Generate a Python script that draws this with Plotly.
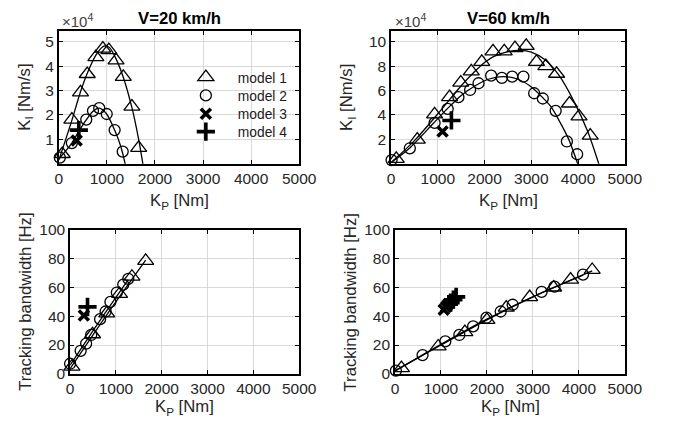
import plotly.graph_objects as go

W, H = 683, 433
FONT = "Arial, Liberation Sans, Helvetica, sans-serif"

# ---------------- data ----------------
# V = 20 km/h, K_I in units of 1e4 Nm/s
m1_kp_20 = [70, 270, 450, 590, 770, 915, 1040, 1190, 1340, 1520, 1660]
m1_ki_20 = [0.40, 1.81, 2.93, 3.68, 4.37, 4.72, 4.66, 4.24, 3.56, 2.34, 0.65]
m2_kp_20 = [20, 270, 570, 710, 840, 995, 1160, 1328]
m2_ki_20 = [0.25, 0.85, 1.81, 2.17, 2.28, 2.04, 1.38, 0.50]
m3_kp_20 = [370]
m3_ki_20 = [0.95]
m4_kp_20 = [415]
m4_ki_20 = [1.38]
fit1_kp_20 = [0, 270, 450, 600, 770, 900, 980, 1060, 1190, 1340, 1520, 1660, 1760]
fit1_ki_20 = [0.15, 1.78, 2.95, 3.75, 4.45, 4.78, 4.83, 4.75, 4.30, 3.55, 2.30, 1.00, -0.15]
fit2_kp_20 = [0, 270, 420, 570, 710, 840, 990, 1160, 1290, 1385]
fit2_ki_20 = [0.20, 0.85, 1.35, 1.80, 2.15, 2.28, 2.05, 1.38, 0.70, -0.05]

# V = 60 km/h
m1_kp_60 = [110, 560, 930, 1250, 1490, 1715, 1940, 2180, 2420, 2650, 2890, 3110, 3310, 3540, 3815, 4020, 4260]
m1_ki_60 = [0.40, 1.98, 4.05, 5.46, 6.65, 7.57, 8.35, 9.22, 9.22, 9.48, 9.67, 8.35, 8.00, 7.38, 4.94, 3.89, 2.31]
m2_kp_60 = [10, 400, 930, 1210, 1440, 1690, 1870, 2140, 2370, 2590, 2830, 3060, 3245, 3520, 3760, 3980]
m2_ki_60 = [0.30, 1.27, 3.35, 4.50, 5.46, 6.05, 6.60, 7.23, 7.04, 7.15, 7.15, 5.78, 5.35, 4.34, 1.83, 0.78]
m3_kp_60 = [1100]
m3_ki_60 = [2.65]
m4_kp_60 = [1290]
m4_ki_60 = [3.55]
fit1_kp_60 = [0, 500, 1000, 1500, 1800, 2000, 2200, 2500, 2750, 3000, 3300, 3600, 3900, 4200, 4450]
fit1_ki_60 = [0.10, 1.90, 4.10, 6.40, 7.60, 8.30, 8.80, 9.20, 9.30, 9.15, 8.50, 7.20, 5.20, 2.70, -0.10]
fit2_kp_60 = [0, 400, 900, 1200, 1500, 1800, 2100, 2400, 2700, 3000, 3300, 3420, 3600, 3800, 4000]
fit2_ki_60 = [0.10, 1.30, 3.30, 4.50, 5.60, 6.40, 6.95, 7.15, 6.95, 6.30, 5.20, 4.68, 3.50, 2.00, -0.10]

# tracking bandwidth [Hz], V = 20 km/h
bw1_kp_20 = [40, 490, 800, 1080, 1350, 1650]
bw1_hz_20 = [5.0, 27.5, 42.0, 55.5, 67.5, 78.5]
bw2_kp_20 = [0, 230, 350, 460, 655, 775, 880, 1020, 1160, 1270]
bw2_hz_20 = [7.0, 16.0, 21.0, 27.0, 38.0, 43.3, 50.0, 56.5, 62.0, 66.0]
bw3_kp_20 = [300]
bw3_hz_20 = [40.5]
bw4_kp_20 = [380]
bw4_hz_20 = [46.5]
bwfit1_kp_20 = [0, 800, 1650]
bwfit1_hz_20 = [3.5, 41.0, 79.0]
bwfit2_kp_20 = [0, 650, 1270]
bwfit2_hz_20 = [6.0, 37.0, 65.5]

# tracking bandwidth [Hz], V = 60 km/h
bw1_kp_60 = [140, 940, 1520, 2000, 2420, 2930, 3450, 3820, 4290]
bw1_hz_60 = [4.0, 19.0, 29.0, 37.5, 46.0, 53.3, 60.0, 65.5, 72.2]
bw2_kp_60 = [20, 600, 1095, 1400, 1700, 1990, 2300, 2560, 3190, 3470, 4090]
bw2_hz_60 = [2.2, 13.0, 22.5, 27.0, 33.0, 39.0, 43.3, 48.0, 57.0, 60.6, 69.0]
bw3_kp_60 = [1060, 1110, 1160]
bw3_hz_60 = [44.5, 46.5, 48.5]
bw4_kp_60 = [1210, 1270, 1330]
bw4_hz_60 = [49.5, 51.5, 53.5]
bwfit1_kp_60 = [0, 1000, 2000, 3000, 4290]
bwfit1_hz_60 = [2.0, 20.0, 37.5, 53.5, 71.5]
bwfit2_kp_60 = [0, 1000, 2000, 3000, 4090]
bwfit2_hz_60 = [2.0, 20.5, 38.0, 53.5, 68.5]

legend_names = ["model 1", "model 2", "model 3", "model 4"]
titles = ["V=20 km/h", "V=60 km/h"]
x_ticks = [0, 1000, 2000, 3000, 4000, 5000]
ki_ticks_20 = [1, 2, 3, 4, 5]
ki_ticks_60 = [2, 4, 6, 8, 10]
bw_ticks = [0, 20, 40, 60, 80, 100]

# ---------------- styling ----------------
MK = {
    1: dict(symbol="triangle-up-open", size=14, color="black", line=dict(width=1.3, color="black")),
    2: dict(symbol="circle-open", size=11, color="black", line=dict(width=1.3, color="black")),
    3: dict(symbol="x-thin-open", size=10, color="black", line=dict(width=3.6, color="black")),
    4: dict(symbol="cross-thin-open", size=13, color="black", line=dict(width=3.6, color="black")),
}
LEGEND_IDS = ["legend", "legend2", "legend3", "legend4"]
LEGEND_ROWS = [71, 90, 109, 127.7]

fig = go.Figure()


def add_marks(xs, ys, k, ax, legend=False):
    fig.add_trace(go.Scatter(
        x=xs, y=ys, mode="markers", marker=MK[k], name=legend_names[k - 1],
        showlegend=legend, legend=LEGEND_IDS[k - 1], cliponaxis=False,
        xaxis="x" + ax, yaxis="y" + ax))


def add_line(xs, ys, ax):
    fig.add_trace(go.Scatter(
        x=xs, y=ys, mode="lines", line=dict(color="black", width=1.3, shape="spline", smoothing=0.8),
        showlegend=False, hoverinfo="skip", xaxis="x" + ax, yaxis="y" + ax))


# panel 1 (top-left)
add_line(fit1_kp_20, fit1_ki_20, "")
add_line(fit2_kp_20, fit2_ki_20, "")
add_marks(m1_kp_20, m1_ki_20, 1, "", True)
add_marks(m2_kp_20, m2_ki_20, 2, "", True)
add_marks(m3_kp_20, m3_ki_20, 3, "", True)
add_marks(m4_kp_20, m4_ki_20, 4, "", True)
# panel 2 (top-right)
add_line(fit1_kp_60, fit1_ki_60, "2")
add_line(fit2_kp_60, fit2_ki_60, "2")
add_marks(m1_kp_60, m1_ki_60, 1, "2")
add_marks(m2_kp_60, m2_ki_60, 2, "2")
add_marks(m3_kp_60, m3_ki_60, 3, "2")
add_marks(m4_kp_60, m4_ki_60, 4, "2")
# panel 3 (bottom-left)
add_line(bwfit1_kp_20, bwfit1_hz_20, "3")
add_line(bwfit2_kp_20, bwfit2_hz_20, "3")
add_marks(bw1_kp_20, bw1_hz_20, 1, "3")
add_marks(bw2_kp_20, bw2_hz_20, 2, "3")
add_marks(bw3_kp_20, bw3_hz_20, 3, "3")
add_marks(bw4_kp_20, bw4_hz_20, 4, "3")
# panel 4 (bottom-right)
add_line(bwfit1_kp_60, bwfit1_hz_60, "4")
add_line(bwfit2_kp_60, bwfit2_hz_60, "4")
add_marks(bw1_kp_60, bw1_hz_60, 1, "4")
add_marks(bw2_kp_60, bw2_hz_60, 2, "4")
add_marks(bw3_kp_60, bw3_hz_60, 3, "4")
add_marks(bw4_kp_60, bw4_hz_60, 4, "4")


def fx(px):
    return px / W


def fy(py):
    return 1 - py / H


def axis_common(**kw):
    d = dict(
        showline=True, linecolor="black", linewidth=1.6, mirror="ticks",
        ticks="inside", ticklen=4, tickwidth=1, tickcolor="black",
        showgrid=True, gridcolor="#d9d9d9", gridwidth=1.4, zeroline=False,
        tickfont=dict(family=FONT, size=15.5, color="#262626"), fixedrange=True,
    )
    d.update(kw)
    return d


panels = {
    "": ((56.7, 305.0), (22.7, 161.1)),
    "2": ((400.0, 641.5), (22.7, 161.1)),
    "3": ((68.3, 305.0), (230.0, 379.7)),
    "4": ((404.0, 641.5), (230.0, 379.7)),
}
yranges = {"": [0, 5.45], "2": [0, 10.9], "3": [0, 100], "4": [0, 100]}
yticks = {"": ki_ticks_20, "2": ki_ticks_60, "3": bw_ticks, "4": bw_ticks}

layout = dict(
    width=W, height=H, margin=dict(l=0, r=0, t=0, b=0),
    paper_bgcolor="white", plot_bgcolor="white",
    font=dict(family=FONT, color="#262626"),
)
for lid, row in zip(LEGEND_IDS, LEGEND_ROWS):
    layout[lid] = dict(
        x=fx(175.5), y=fy(row), xanchor="left", yanchor="middle",
        bgcolor="rgba(0,0,0,0)", borderwidth=0, itemwidth=54,
        font=dict(family=FONT, size=13.8, color="#1a1a1a"),
    )
for ax, ((x0, x1), (y0, y1)) in panels.items():
    layout["xaxis" + ax] = axis_common(
        domain=[fx(x0), fx(x1)], range=[0, 5000], tickvals=x_ticks,
        anchor="y" + ax)
    layout["yaxis" + ax] = axis_common(
        domain=[fy(y1), fy(y0)], range=yranges[ax], tickvals=yticks[ax],
        anchor="x" + ax)
fig.update_layout(**layout)

ann = []
tfont = dict(family=FONT, size=16.7, color="black")
lfont = dict(family=FONT, size=16.7, color="#262626")
ann.append(dict(text="<b>" + titles[0] + "</b>", x=fx(181), y=fy(9.5), font=tfont))
ann.append(dict(text="<b>" + titles[1] + "</b>", x=fx(521), y=fy(9.5), font=tfont))
ann.append(dict(text="×10<sup>4</sup>", x=fx(58), y=fy(12), xanchor="left",
                font=dict(family=FONT, size=15, color="#404040")))
ann.append(dict(text="×10<sup>4</sup>", x=fx(401.5), y=fy(12), xanchor="left",
                font=dict(family=FONT, size=15, color="#404040")))
for cx, cy in [(181, 200.5), (521, 200.5), (186.6, 414.5), (523, 414.5)]:
    ann.append(dict(text="K<sub>P</sub> [Nm]", x=fx(cx), y=fy(cy), font=lfont))
for cx, cy, t in [(22, 92, "K<sub>I</sub> [Nm/s]"), (355, 92, "K<sub>I</sub> [Nm/s]"),
                  (21.5, 305, "Tracking bandwidth [Hz]"), (358, 305, "Tracking bandwidth [Hz]")]:
    ann.append(dict(text=t, x=fx(cx), y=fy(cy), textangle=-90, font=lfont))
for a in ann:
    a.update(xref="paper", yref="paper", showarrow=False)
    a.setdefault("xanchor", "center")
    a.setdefault("yanchor", "middle")
fig.update_layout(annotations=ann)

# remove the browser's default 8px page margin so the figure sits at (0, 0)
fig.write_html("out.html", config={"displayModeBar": False},
               post_script="document.body.style.margin='0';")
